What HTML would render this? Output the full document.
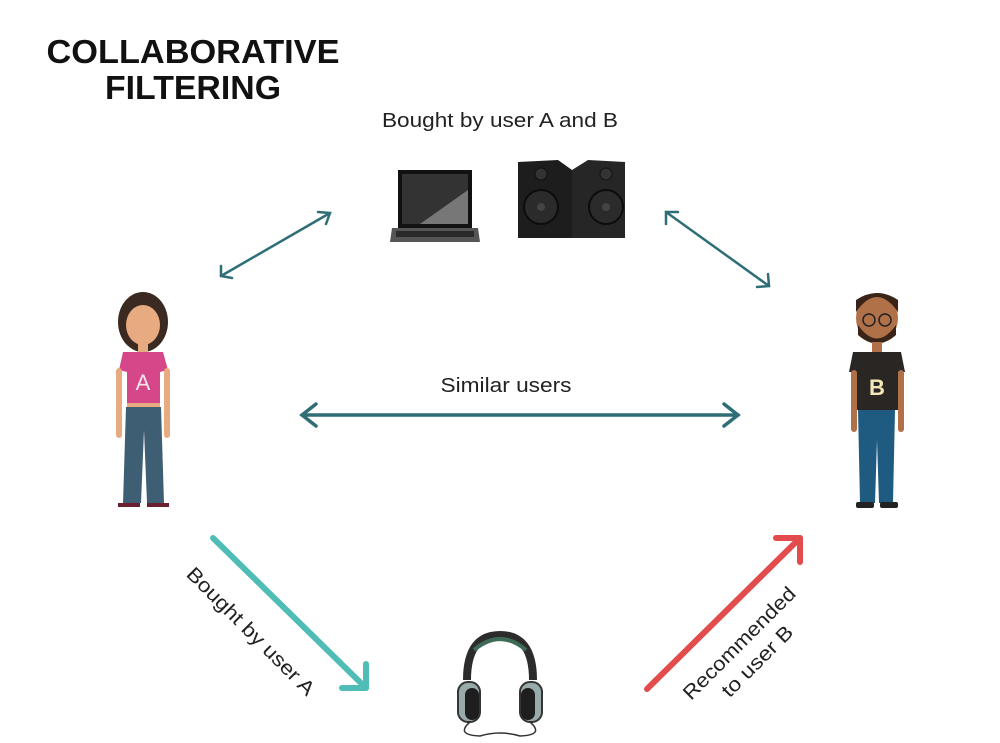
<!DOCTYPE html>
<html><head><meta charset="utf-8"><style>
body{margin:0;background:#fff;width:1000px;height:738px;overflow:hidden}
text{font-family:"Liberation Sans",sans-serif}
</style></head><body>
<svg width="1000" height="738" viewBox="0 0 1000 738" xmlns="http://www.w3.org/2000/svg">
<text x="193" y="63" text-anchor="middle" font-size="33" font-weight="bold" fill="#111" textLength="293" lengthAdjust="spacingAndGlyphs">COLLABORATIVE</text>
<text x="193" y="99" text-anchor="middle" font-size="33" font-weight="bold" fill="#111" textLength="176" lengthAdjust="spacingAndGlyphs">FILTERING</text>
<text x="500" y="127" text-anchor="middle" font-size="20" fill="#222" textLength="236" lengthAdjust="spacingAndGlyphs">Bought by user A and B</text>
<text x="506" y="392" text-anchor="middle" font-size="20" fill="#222" textLength="131" lengthAdjust="spacingAndGlyphs">Similar users</text>
<g stroke="#2f6e76" stroke-width="2.5" fill="none" stroke-linecap="round">
<line x1="221" y1="276" x2="330" y2="213"/>
<polyline points="221,266 221,276 232,278"/>
<polyline points="318,212 330,213 326,224"/>
<line x1="666" y1="212" x2="769" y2="286"/>
<polyline points="666,224 666,212 678,212"/>
<polyline points="757,287 769,286 768,274"/>
<line x1="302" y1="415" x2="738" y2="415" stroke-width="3.5"/>
<polyline points="316,404 302,415 316,426" stroke-width="3.5"/>
<polyline points="724,404 738,415 724,426" stroke-width="3.5"/>
</g>
<g stroke="#4fbdb5" stroke-width="6" fill="none" stroke-linecap="round" stroke-linejoin="round">
<line x1="213" y1="538" x2="366" y2="688"/>
<polyline points="342,688 366,688 366,664"/>
</g>
<g stroke="#e24c4c" stroke-width="6" fill="none" stroke-linecap="round" stroke-linejoin="round">
<line x1="647" y1="689" x2="800" y2="538"/>
<polyline points="776,538 800,538 800,562"/>
</g>
<text transform="translate(246,636) rotate(45)" text-anchor="middle" font-size="20" fill="#222" textLength="172" lengthAdjust="spacingAndGlyphs">Bought by user A</text>
<text transform="translate(744,648) rotate(-45)" text-anchor="middle" font-size="20" fill="#222" textLength="150" lengthAdjust="spacingAndGlyphs">Recommended</text>
<text transform="translate(762,666) rotate(-45)" text-anchor="middle" font-size="20" fill="#222" textLength="92" lengthAdjust="spacingAndGlyphs">to user B</text>
<path d="M398,170 L472,170 L472,228 L398,228Z" fill="#111"/>
<path d="M402,174 L468,174 L468,224 L402,224Z" fill="#333"/>
<path d="M420,224 L468,190 L468,224Z" fill="#777"/>
<path d="M392,228 L478,228 L480,242 L390,242Z" fill="#555"/>
<rect x="396" y="231" width="78" height="6" fill="#2a2a2a"/>
<path d="M518,162 L558,160 L572,170 L572,238 L518,238Z" fill="#1d1d1d"/>
<path d="M572,170 L588,160 L625,162 L625,238 L572,238Z" fill="#262626"/>
<circle cx="541" cy="174" r="6" fill="#333" stroke="#111"/>
<circle cx="541" cy="207" r="17" fill="#2b2b2b" stroke="#0c0c0c" stroke-width="2"/>
<circle cx="541" cy="207" r="4" fill="#444"/>
<circle cx="606" cy="174" r="6" fill="#333" stroke="#111"/>
<circle cx="606" cy="207" r="17" fill="#2b2b2b" stroke="#0c0c0c" stroke-width="2"/>
<circle cx="606" cy="207" r="4" fill="#444"/>
<ellipse cx="143" cy="322" rx="25" ry="30" fill="#3b2a22"/>
<ellipse cx="143" cy="325" rx="17" ry="20" fill="#e8aa80"/>
<path d="M126,312 Q143,295 160,312 L160,305 Q143,290 126,305Z" fill="#3b2a22"/>
<rect x="138" y="343" width="10" height="10" fill="#e8aa80"/>
<path d="M123,352 L163,352 L168,370 L160,372 L160,403 L127,403 L127,372 L119,370Z" fill="#d6478a"/>
<text x="143" y="390" text-anchor="middle" font-size="22" fill="#f4e4ec">A</text>
<rect x="127" y="403" width="33" height="5" fill="#e8aa80"/>
<rect x="116" y="368" width="6" height="70" rx="3" fill="#e8aa80"/>
<rect x="164" y="368" width="6" height="70" rx="3" fill="#e8aa80"/>
<path d="M126,407 L161,407 L164,503 L147,503 L144,430 L141,503 L123,503Z" fill="#3e5e73"/>
<rect x="118" y="503" width="22" height="4" fill="#6a2030"/>
<rect x="147" y="503" width="22" height="4" fill="#6a2030"/>
<ellipse cx="877" cy="318" rx="21" ry="25" fill="#b07048"/>
<path d="M856,312 Q877,282 898,312 L898,300 Q877,286 856,300Z" fill="#3a2418"/>
<path d="M858,325 Q877,352 896,325 L896,335 Q877,352 858,335Z" fill="#3a2418"/>
<circle cx="869" cy="320" r="6" fill="none" stroke="#222" stroke-width="1.5"/>
<circle cx="885" cy="320" r="6" fill="none" stroke="#222" stroke-width="1.5"/>
<rect x="872" y="342" width="10" height="10" fill="#b07048"/>
<path d="M853,352 L901,352 L905,372 L898,372 L898,410 L856,410 L856,372 L849,372Z" fill="#2a2624"/>
<text x="877" y="395" text-anchor="middle" font-size="22" font-weight="bold" fill="#f2e8b8">B</text>
<rect x="851" y="370" width="6" height="62" rx="3" fill="#b07048"/>
<rect x="898" y="370" width="6" height="62" rx="3" fill="#b07048"/>
<path d="M858,410 L895,410 L893,503 L879,503 L877,440 L875,503 L860,503Z" fill="#1f5b80"/>
<rect x="856" y="502" width="18" height="6" rx="2" fill="#222"/>
<rect x="880" y="502" width="18" height="6" rx="2" fill="#222"/>
<path d="M467,680 Q467,635 500,635 Q533,635 533,680" fill="none" stroke="#2c2c2c" stroke-width="8"/>
<path d="M474,650 Q500,628 526,650" fill="none" stroke="#3d6b55" stroke-width="4"/>
<rect x="458" y="682" width="22" height="40" rx="10" fill="#9aa" stroke="#333" stroke-width="2"/>
<rect x="520" y="682" width="22" height="40" rx="10" fill="#9aa" stroke="#333" stroke-width="2"/>
<rect x="465" y="688" width="14" height="32" rx="7" fill="#1e1e1e"/>
<rect x="521" y="688" width="14" height="32" rx="7" fill="#1e1e1e"/>
<path d="M470,722 Q455,735 480,736 Q500,730 520,736 Q545,735 530,722" fill="none" stroke="#333" stroke-width="1.5"/>
</svg>
</body></html>
